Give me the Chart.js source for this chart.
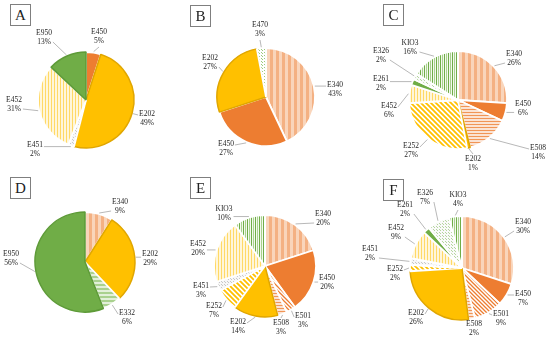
<!DOCTYPE html>
<html>
<head>
<meta charset="utf-8">
<script src="https://cdn.jsdelivr.net/npm/chart.js@4.4.1/dist/chart.umd.min.js"></script>
<style>
  html, body { margin: 0; padding: 0; background: #fff; }
  #wrap { position: relative; width: 550px; height: 341px; overflow: hidden; }
  canvas { position: absolute; }
  .tag {
    position: absolute; width: 19px; height: 20px; border: 1px solid #7f7f7f;
    font-family: 'Liberation Serif', serif; font-size: 15px; line-height: 21px;
    text-align: center; color: #222; z-index: 5; background: #fff;
  }
</style>
</head>
<body>
<div id="wrap">
  <canvas id="pieA" width="220" height="180"></canvas>
  <canvas id="pieB" width="220" height="180"></canvas>
  <canvas id="pieC" width="220" height="180"></canvas>
  <canvas id="pieD" width="220" height="180"></canvas>
  <canvas id="pieE" width="220" height="180"></canvas>
  <canvas id="pieF" width="220" height="180"></canvas>
  <div class="tag" style="left:10px;top:4px">A</div>
  <div class="tag" style="left:190px;top:5px">B</div>
  <div class="tag" style="left:383px;top:4px">C</div>
  <div class="tag" style="left:10px;top:177px">D</div>
  <div class="tag" style="left:190px;top:177px">E</div>
  <div class="tag" style="left:383px;top:179px">F</div>
</div>
<script>
// additive shares (%) per sample, clockwise from 12 o'clock
const namesA = ['E450', 'E202', 'E451', 'E452', 'E950'];
const sharesA = [5, 49, 2, 31, 13];
const namesB = ['E340', 'E450', 'E202', 'E470'];
const sharesB = [43, 27, 27, 3];
const namesC = ['E340', 'E450', 'E508', 'E202', 'E252', 'E452', 'E261', 'E326', 'KIO3'];
const sharesC = [26, 6, 14, 1, 27, 6, 2, 2, 16];
const namesD = ['E340', 'E202', 'E332', 'E950'];
const sharesD = [9, 29, 6, 56];
const namesE = ['E340', 'E450', 'E501', 'E508', 'E202', 'E252', 'E451', 'E452', 'KIO3'];
const sharesE = [20, 20, 3, 3, 14, 7, 3, 20, 10];
const namesF = ['E340', 'E450', 'E501', 'E508', 'E202', 'E252', 'E451', 'E452', 'E261', 'E326', 'KIO3'];
const sharesF = [30, 7, 9, 2, 26, 2, 2, 9, 2, 7, 4];

// layout: pie centre on page, radius, label block offsets from centre
const layout = {
    A: { cx: 86, cy: 100, r: 48, spots: [[13, -63], [61, 19], [-51, 50], [-72, 5], [-42, -62]] },
    B: { cx: 266, cy: 97, r: 49, spots: [[69, -7], [-40, 52], [-56, -34], [-6, -67]] },
    C: { cx: 458, cy: 100, r: 49, spots: [[56, -41], [65, 9], [80, 53], [15, 64], [-47, 51], [-69, 11], [-77, -16], [-77, -44], [-48, -52]] },
    D: { cx: 85, cy: 262, r: 50, spots: [[35, -55], [65, -3], [42, 56], [-74, -3]] },
    E: { cx: 265, cy: 266, r: 51, spots: [[58, -47], [62, 17], [38, 55], [16, 62], [-27, 61], [-51, 45], [-64, 25], [-67, -17], [-41, -52]] },
    F: { cx: 462, cy: 268, r: 52, spots: [[61, -41], [61, 31], [39, 51], [12, 61], [-46, 50], [-67, 6], [-92, -14], [-66, -35], [-57, -58], [-37, -70], [-4, -68]] }
};

function makePattern(w, h, draw) {
    const c = document.createElement('canvas');
    c.width = w;
    c.height = h;
    const g = c.getContext('2d');
    draw(g, w, h);
    return g.createPattern(c, 'repeat');
}

function diagonal(color, bg, size, lw) {
    return makePattern(size, size, function (g, w, h) {
        g.fillStyle = bg;
        g.fillRect(0, 0, w, h);
        g.strokeStyle = color;
        g.lineWidth = lw;
        g.beginPath();
        g.moveTo(-1, -1); g.lineTo(w + 1, h + 1);
        g.moveTo(-1, h - 1); g.lineTo(1, h + 1);
        g.moveTo(w - 1, -1); g.lineTo(w + 1, 1);
        g.stroke();
    });
}

function dots(color, bg, size) {
    return makePattern(size, size, function (g, w, h) {
        g.fillStyle = bg;
        g.fillRect(0, 0, w, h);
        g.fillStyle = color;
        g.fillRect(0, 0, 1, 1);
        g.fillRect(Math.floor(w / 2), Math.floor(h / 2), 1, 1);
    });
}

const fills = {
    E340: makePattern(6, 1, function (g) {
        g.fillStyle = '#F4B183'; g.fillRect(0, 0, 3, 1);
        g.fillStyle = '#F9D5BB'; g.fillRect(3, 0, 3, 1);
    }),
    E450: '#ED7D31',
    E501: diagonal('#ED7D31', '#ffffff', 4, 1.3),
    E508: makePattern(1, 3, function (g) {
        g.fillStyle = '#FBE3D3'; g.fillRect(0, 0, 1, 3);
        g.fillStyle = '#F19556'; g.fillRect(0, 0, 1, 1);
    }),
    E202: '#FFC000',
    E252: diagonal('#FFC000', '#ffffff', 5, 1.8),
    E451: dots('#C8C8C8', '#F7F7F7', 3),
    E452: makePattern(3, 1, function (g) {
        g.fillStyle = '#FFF6DA'; g.fillRect(0, 0, 3, 1);
        g.fillStyle = '#FFD966'; g.fillRect(0, 0, 1, 1);
    }),
    E261: '#70AD47',
    E326: dots('#B5D69E', '#FAFAFA', 3),
    KIO3: makePattern(4, 1, function (g) {
        g.fillStyle = '#F3F9EE'; g.fillRect(0, 0, 4, 1);
        g.fillStyle = '#70AD47'; g.fillRect(0, 0, 1, 1);
        g.fillStyle = '#A9D18E'; g.fillRect(2, 0, 1, 1);
    }),
    E950: '#70AD47',
    E470: dots('#9CCB7C', '#ffffff', 3),
    E332: makePattern(1, 4, function (g) {
        g.fillStyle = '#E2F0D9'; g.fillRect(0, 0, 1, 4);
        g.fillStyle = '#A9D18E'; g.fillRect(0, 0, 1, 2);
    })
};

const edges = { E202: '#E0A600', E950: '#5E9B38' };

const sliceLabels = {
    id: 'sliceLabels',
    afterDatasetsDraw(chart, args, opts) {
        const ctx = chart.ctx;
        const arcs = chart.getDatasetMeta(0).data;
        const names = chart.data.labels;
        const vals = chart.data.datasets[0].data;
        ctx.save();
        ctx.font = '7.5px "Liberation Serif", serif';
        ctx.textAlign = 'center';
        ctx.textBaseline = 'middle';
        arcs.forEach(function (arc, i) {
            const mid = (arc.startAngle + arc.endAngle) / 2;
            const ax = arc.x + Math.cos(mid) * (arc.outerRadius + 1);
            const ay = arc.y + Math.sin(mid) * (arc.outerRadius + 1);
            const lx = arc.x + opts.spots[i][0];
            const ly = arc.y + opts.spots[i][1];
            const t1 = names[i];
            const t2 = vals[i] + '%';
            const hw = Math.max(ctx.measureText(t1).width, ctx.measureText(t2).width) / 2 + 1;
            const hh = 10;
            let ex, ey;
            if (Math.abs(lx - ax) > hw + 2) {
                ex = lx + (ax < lx ? -hw : hw);
                ey = ly + Math.max(-4, Math.min(4, ay - ly));
            } else {
                ex = lx;
                ey = ly + (ay < ly ? -hh : hh);
            }
            if (Math.hypot(ex - ax, ey - ay) > 3) {
                ctx.strokeStyle = '#A6A6A6';
                ctx.lineWidth = 0.8;
                ctx.beginPath();
                ctx.moveTo(ax, ay);
                ctx.lineTo(ex, ey);
                ctx.stroke();
            }
            ctx.fillStyle = '#262626';
            ctx.fillText(t1, lx, ly - 4.5);
            ctx.fillText(t2, lx, ly + 4.5);
        });
        ctx.restore();
    }
};

function drawPie(key, names, shares) {
    const lay = layout[key];
    const el = document.getElementById('pie' + key);
    el.style.left = (lay.cx - el.width / 2) + 'px';
    el.style.top = (lay.cy - el.height / 2) + 'px';
    return new Chart(el.getContext('2d'), {
        type: 'pie',
        data: {
            labels: names,
            datasets: [{
                data: shares,
                backgroundColor: names.map(n => fills[n]),
                borderColor: names.map(n => edges[n] || '#ffffff'),
                borderWidth: names.map(n => edges[n] ? 1.5 : 1.8)
            }]
        },
        options: {
            responsive: false,
            animation: false,
            events: [],
            radius: lay.r,
            layout: { padding: 0 },
            plugins: {
                legend: { display: false },
                tooltip: { enabled: false },
                sliceLabels: { spots: lay.spots }
            }
        },
        plugins: [sliceLabels]
    });
}

drawPie('A', namesA, sharesA);
drawPie('B', namesB, sharesB);
drawPie('C', namesC, sharesC);
drawPie('D', namesD, sharesD);
drawPie('E', namesE, sharesE);
drawPie('F', namesF, sharesF);
</script>
</body>
</html>
